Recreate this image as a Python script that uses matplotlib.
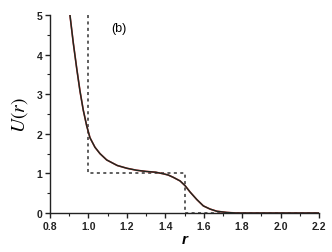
#!/usr/bin/env python3

import matplotlib
matplotlib.use('Agg')
import matplotlib.pyplot as plt
from matplotlib.ticker import MultipleLocator

plt.rcParams['mathtext.fontset'] = 'stix'

# soft potential U(r)
r_soft = [0.904, 0.921, 0.939, 0.956, 0.973, 0.991, 1.008, 1.034, 1.06, 1.095,
          1.15, 1.2, 1.25, 1.3, 1.35, 1.39, 1.415, 1.442, 1.477, 1.503, 1.529,
          1.564, 1.598, 1.633, 1.668, 1.72, 1.77, 2.2]
u_soft = [4.99, 4.30, 3.65, 3.08, 2.60, 2.20, 1.90, 1.66, 1.50, 1.34,
          1.20, 1.13, 1.08, 1.05, 1.03, 0.99, 0.96, 0.90, 0.81, 0.69, 0.53,
          0.34, 0.18, 0.10, 0.045, 0.015, 0.0, 0.0]

# square shoulder reference
r_step = [1.0, 1.0, 1.5, 1.5, 2.2]
u_step = [5.0, 1.0, 1.0, 0.0, 0.0]

fig = plt.figure(figsize=(3.32, 2.53), dpi=100)
ax = fig.add_axes([0.1506, 0.154, 0.8104, 0.783])

ax.plot(r_step, u_step, color='#333333', lw=1.1, ls=(0, (2.0, 2.2)))
ax.plot(r_soft, u_soft, color='#d03030', lw=1.2, solid_joinstyle='round')
ax.plot(r_soft, u_soft, color='#1a2a22', lw=1.0, solid_joinstyle='round')

ax.set_xlim(0.8, 2.2)
ax.set_ylim(0, 5)
ax.xaxis.set_major_locator(MultipleLocator(0.2))
ax.xaxis.set_minor_locator(MultipleLocator(0.1))
ax.yaxis.set_major_locator(MultipleLocator(1))
ax.yaxis.set_minor_locator(MultipleLocator(0.5))

# remove top and right spines
ax.spines['top'].set_visible(False)
ax.spines['right'].set_visible(False)
for s in ['left', 'bottom']:
    ax.spines[s].set_linewidth(1.0)
    ax.spines[s].set_color('#222222')

ax.tick_params(which='major', direction='out', length=3.5, width=1.0, pad=2,
               labelsize=7.5, colors='#222222')
ax.tick_params(which='minor', direction='out', length=2, width=0.8, colors='#222222')
ax.set_xticks([0.8, 1.0, 1.2, 1.4, 1.6, 1.8, 2.0, 2.2])
ax.set_xticklabels(['0.8', '1.0', '1.2', '1.4', '1.6', '1.8', '2.0', '2.2'])
for lab in ax.get_xticklabels() + ax.get_yticklabels():
    lab.set_fontweight('bold')
    lab.set_family('Liberation Sans')

ax.set_xlabel('r', fontsize=11, fontweight='bold', fontstyle='italic',
              family='Liberation Sans', labelpad=1)
ax.set_ylabel(r'$U(r)$', fontsize=14, labelpad=5)
ax.text(1.12, 4.68, '(b)', fontsize=9, family='Liberation Sans', va='center')

plt.savefig('out.png', dpi=100)
